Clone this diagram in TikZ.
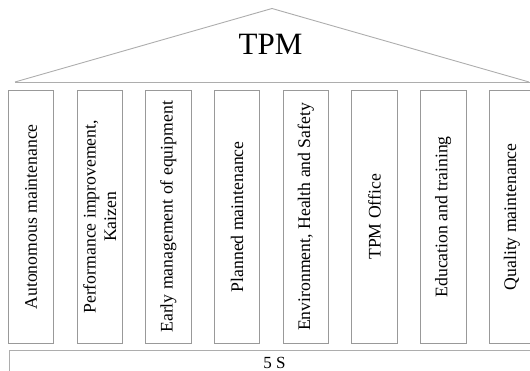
\documentclass[tikz,border=0pt]{standalone}
\usepackage{fontspec}
\setmainfont{Liberation Serif}
\begin{document}
\begin{tikzpicture}[x=1pt,y=-1pt,
  roofline/.style={draw=black!32,line width=0.9pt},
  pillar/.style={draw=black!40,line width=0.9pt,rotate=90,
    minimum width=252.3pt,minimum height=45.5pt,inner sep=0pt,
    align=center,font=\fontsize{17.7}{20.4}\selectfont},
  basebox/.style={draw=black!32,line width=0.9pt},
  label/.style={inner sep=0pt}]
\useasboundingbox (0,0) rectangle (530,371);
\clip (0,0) rectangle (530,371);

% roof
\coordinate (roofL) at (15,82);
\coordinate (roofT) at (272,8.5);
\coordinate (roofR) at (529,82);
\coordinate (roofE) at (531,82);
\draw[roofline] (roofL) -- (roofT) -- (roofR);
\draw[roofline] (roofL) -- (roofE);
\node[label,font=\fontsize{31}{36}\selectfont] (tpm) at (270.5,44) {TPM};

% pillars
\node[pillar] (p1) at (31.0,216.85)  {Autonomous maintenance};
\node[pillar] (p2) at (99.7,216.85)  {Performance improvement,\\Kaizen};
\node[pillar] (p3) at (168.4,216.85) {Early management of equipment};
\node[pillar] (p4) at (237.1,216.85) {Planned maintenance};
\node[pillar] (p5) at (305.8,216.85) {Environment, Health and Safety};
\node[pillar] (p6) at (374.5,216.85) {TPM Office};
\node[pillar] (p7) at (443.2,216.85) {Education and training};
\node[pillar] (p8) at (511.9,216.85) {Quality maintenance};

% foundation
\coordinate (baseA) at (9.7,350.7);
\coordinate (baseB) at (545,395);
\draw[basebox] (baseA) rectangle (baseB);
\node[label,font=\fontsize{17}{20}\selectfont] (fives) at (274.5,362.5) {5 S};
\end{tikzpicture}
\end{document}
